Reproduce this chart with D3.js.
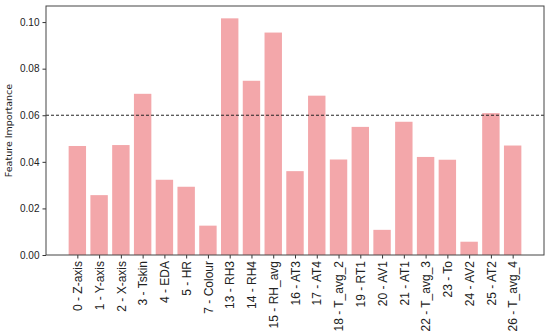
<!DOCTYPE html>
<html>
<head>
<meta charset="utf-8">
<script src="https://cdn.jsdelivr.net/npm/d3@7"></script>
<style>
  body { margin: 0; background: #fff; }
  svg { display: block; font-family: "DejaVu Sans", sans-serif; }
  .tick text { fill: #222; }
</style>
</head>
<body>
<div id="chart"></div>
<script>
var features = ["0 - Z-axis", "1 - Y-axis", "2 - X-axis", "3 - Tskin", "4 - EDA", "5 - HR",
    "7 - Colour", "13 - RH3", "14 - RH4", "15 - RH_avg", "16 - AT3", "17 - AT4",
    "18 - T_avg_2", "19 - RT1", "20 - AV1", "21 - AT1", "22 - T_avg_3", "23 - To",
    "24 - AV2", "25 - AT2", "26 - T_avg_4"];
var importance = [0.0468, 0.0257, 0.0472, 0.0692, 0.0323, 0.0293,
    0.0126, 0.1016, 0.0748, 0.0955, 0.0360, 0.0684,
    0.0410, 0.0550, 0.0108, 0.0572, 0.0421, 0.0409,
    0.0057, 0.0609, 0.0470];
var yTicks = [0, 0.02, 0.04, 0.06, 0.08, 0.10];
var threshold = 0.06;

var margin = {top: 6, right: 6, bottom: 80, left: 46},
    width = 550 - margin.left - margin.right,
    height = 335 - margin.top - margin.bottom;

var barW = 0.8;
var n = features.length;
var pad = 0.05 * (n - 1 + barW);

var x = d3.scaleLinear()
    .domain([-barW / 2 - pad, n - 1 + barW / 2 + pad])
    .range([0, width]);
var y = d3.scaleLinear()
    .domain([0, 0.1069])
    .range([height, 0]);

var svg = d3.select("#chart").append("svg")
    .attr("width", 550)
    .attr("height", 335)
  .append("g")
    .attr("transform", "translate(" + margin.left + "," + margin.top + ")");

svg.selectAll(".bar")
    .data(importance)
  .enter().append("rect")
    .attr("class", "bar")
    .attr("x", function (d, i) { return x(i - barW / 2); })
    .attr("width", x(barW) - x(0))
    .attr("y", function (d) { return y(d); })
    .attr("height", function (d) { return height - y(d); })
    .style("fill", "#f3a7aa");

svg.append("line")
    .attr("x1", 0)
    .attr("x2", width)
    .attr("y1", y(threshold))
    .attr("y2", y(threshold))
    .style("stroke", "#222")
    .style("stroke-width", 1)
    .style("stroke-dasharray", "3,2");

var xAxis = d3.axisBottom(x)
    .tickValues(d3.range(n))
    .tickFormat(function (i) { return features[i]; })
    .tickSize(3.5)
    .tickSizeOuter(0);

var gx = svg.append("g")
    .attr("transform", "translate(0," + height + ")")
    .call(xAxis);
gx.select(".domain").remove();
gx.selectAll(".tick line").style("stroke", "#333");
gx.selectAll(".tick text")
    .style("font-size", "12px")
    .attr("transform", "rotate(-90)")
    .attr("x", -6)
    .attr("y", 0)
    .attr("dy", "0.35em")
    .style("text-anchor", "end");

var yAxis = d3.axisLeft(y)
    .tickValues(yTicks)
    .tickFormat(d3.format(".2f"))
    .tickSize(3.5)
    .tickSizeOuter(0);

var gy = svg.append("g").call(yAxis);
gy.select(".domain").remove();
gy.selectAll(".tick line").style("stroke", "#333");
gy.selectAll(".tick text").style("font-size", "10px");

svg.append("rect")
    .attr("width", width)
    .attr("height", height)
    .style("fill", "none")
    .style("stroke", "#444")
    .style("stroke-width", 1);

svg.append("text")
    .attr("transform", "rotate(-90)")
    .attr("x", -height / 2)
    .attr("y", -34)
    .style("text-anchor", "middle")
    .style("font-size", "9.5px")
    .style("fill", "#222")
    .text("Feature Importance");
</script>
</body>
</html>
